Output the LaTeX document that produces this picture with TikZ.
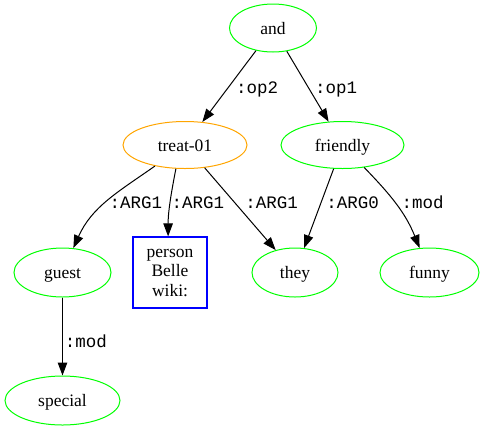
\documentclass[tikz,border=0pt]{standalone}
\usepackage{fontspec}
\setmainfont{Liberation Serif}
\setmonofont{Liberation Mono}
\usetikzlibrary{shapes.geometric,arrows.meta}
\definecolor{gvgreen}{HTML}{00FF00}
\definecolor{gvorange}{HTML}{FFA500}
\definecolor{gvblue}{HTML}{0000FF}
\begin{document}
\begin{tikzpicture}[x=1pt,y=1pt,
  amr/.style={ellipse,draw=gvgreen,line width=1pt,inner sep=0pt,minimum height=48pt,
    font=\fontsize{17.5}{19.5}\selectfont,text height=13pt,text depth=1pt},
  boxnode/.style={rectangle,draw=gvblue,line width=1.2pt,inner sep=0pt,minimum width=74pt,
    minimum height=71pt,align=center,font=\fontsize{17.5}{19.5}\selectfont},
  edge/.style={draw=black,line width=1pt,-{Triangle[length=13pt,width=9.5pt]}},
  lab/.style={font=\ttfamily\fontsize{17.5}{19.5}\selectfont,anchor=base,inner sep=0pt}]
\useasboundingbox (0,0) rectangle (484,-429);
% nodes
\node[amr,minimum width=87pt] (and) at (273,-28) {and};
\node[amr,draw=gvorange,minimum width=124pt,minimum height=47pt] (treat) at (185,-145) {treat-01};
\node[amr,minimum width=123pt,minimum height=47pt] (friendly) at (342.5,-145) {friendly};
\node[amr,minimum width=97pt,minimum height=49pt] (guest) at (62.5,-272.5) {guest};
\node[boxnode] (person) at (170,-272.5) {person\\Belle\\wiki:};
\node[amr,minimum width=86pt,minimum height=49pt] (they) at (295,-272.5) {they};
\node[amr,minimum width=99pt,minimum height=49pt] (funny) at (429.5,-272.5) {funny};
\node[amr,minimum width=115pt,minimum height=49pt] (special) at (62.5,-400.5) {special};
% edges
\draw[edge] (and) -- (treat);
\draw[edge] (and) -- (friendly);
\draw[edge] (treat) to[out=-145,in=66] (guest);
\draw[edge] (treat.-111) .. controls +(-101:25) and +(90:25) .. (person.93);
\draw[edge] (treat) -- (they);
\draw[edge] (friendly) -- (they);
\draw[edge] (friendly) to[out=-46,in=112] (funny);
\draw[edge] (guest) -- (special);
% labels
\node[lab] (lop2) at (257,-93) {:op2};
\node[lab] (lop1) at (336,-93) {:op1};
\node[lab] (larga) at (136,-208) {:ARG1};
\node[lab] (largb) at (198,-208) {:ARG1};
\node[lab] (largc) at (271.5,-208) {:ARG1};
\node[lab] (largd) at (352.5,-208) {:ARG0};
\node[lab] (lmoda) at (422.5,-208) {:mod};
\node[lab] (lmodb) at (86,-347) {:mod};
\end{tikzpicture}
\end{document}
